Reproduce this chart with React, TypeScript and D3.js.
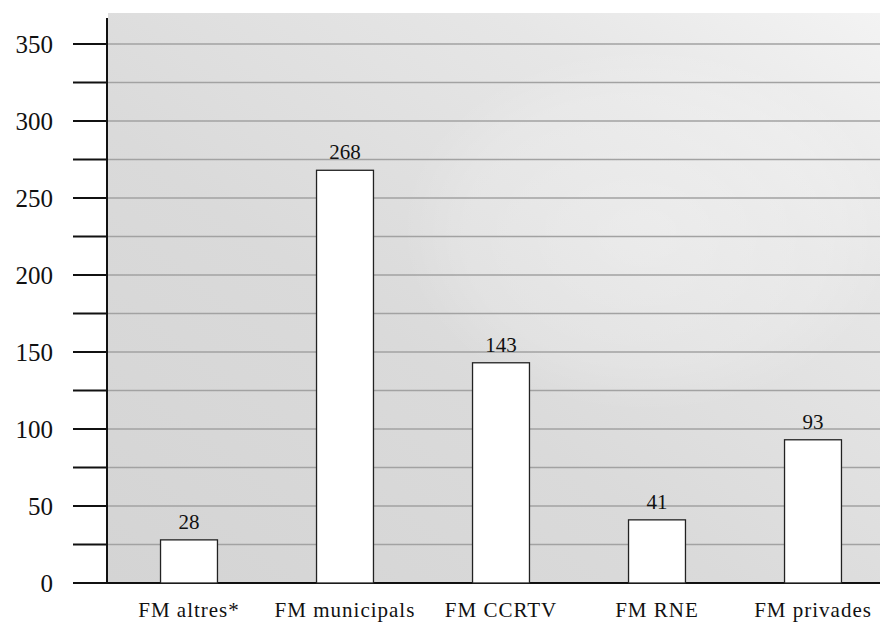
import React from "react";
import * as d3 from "d3";

const categories = ["FM altres*", "FM municipals", "FM CCRTV", "FM RNE", "FM privades"];
const values = [28, 268, 143, 41, 93];
const tickValues = [0, 50, 100, 150, 200, 250, 300, 350];
const minorTicks = [25, 75, 125, 175, 225, 275, 325];

const W = 880;
const H = 627;

export default function App() {
  const y = d3.scaleLinear().domain([0, 350]).range([583, 44]);
  const x = d3
    .scaleBand<string>()
    .domain(categories)
    .range([111, 891])
    .paddingInner(0.635)
    .paddingOuter(0.3175);

  const panelLeft = 108;
  const panelTop = 13;
  const gridValues = d3.range(25, 351, 25);
  const serif = { fontFamily: "Liberation Serif" };

  return (
    <svg
      width={W}
      height={H}
      style={{ position: "absolute", left: 0, top: 0, background: "#fff" }}
    >
      <defs>
        <linearGradient id="panelShade" x1="0" y1="1" x2="1" y2="0">
          <stop offset="0" stopColor="#d4d4d4" />
          <stop offset="0.4" stopColor="#dadada" />
          <stop offset="0.75" stopColor="#e6e6e6" />
          <stop offset="1" stopColor="#f3f3f3" />
        </linearGradient>
        <radialGradient id="panelGlow" cx="0.7" cy="0.38" r="0.32">
          <stop offset="0" stopColor="#ffffff" stopOpacity="0.3" />
          <stop offset="0.75" stopColor="#ffffff" stopOpacity="0.15" />
          <stop offset="1" stopColor="#ffffff" stopOpacity="0" />
        </radialGradient>
      </defs>

      {/* plot panel */}
      <rect x={panelLeft} y={panelTop} width={W - panelLeft} height={y(0) - panelTop} fill="url(#panelShade)" />
      <rect x={panelLeft} y={panelTop} width={W - panelLeft} height={y(0) - panelTop} fill="url(#panelGlow)" />

      {/* horizontal gridlines */}
      {gridValues.map((v) => (
        <line
          key={v}
          x1={panelLeft}
          x2={W}
          y1={y(v)}
          y2={y(v)}
          stroke="#a2a2a2"
          strokeWidth={1.5}
        />
      ))}

      {/* y axis */}
      <line x1={107} x2={107} y1={18} y2={y(0)} stroke="#111" strokeWidth={2} />
      {[...tickValues, ...minorTicks].map((v) => (
        <line key={"t" + v} x1={73} x2={107} y1={y(v)} y2={y(v)} stroke="#111" strokeWidth={2} />
      ))}
      {tickValues.map((v) => (
        <text
          key={"l" + v}
          x={53}
          y={y(v)}
          dy="0.35em"
          textAnchor="end"
          style={serif}
          fontSize={25}
          fill="#111"
        >
          {v}
        </text>
      ))}

      {/* baseline */}
      <line x1={97} x2={W} y1={y(0)} y2={y(0)} stroke="#111" strokeWidth={2} />

      {/* bars */}
      {categories.map((c, i) => (
        <g key={c}>
          <rect
            x={x(c)}
            y={y(values[i])}
            width={x.bandwidth()}
            height={y(0) - y(values[i])}
            fill="#ffffff"
            stroke="#222"
            strokeWidth={1.3}
          />
          <text
            x={(x(c) as number) + x.bandwidth() / 2}
            y={y(values[i]) - 11}
            textAnchor="middle"
            style={serif}
            fontSize={21}
            fill="#111"
          >
            {values[i]}
          </text>
          <text
            x={(x(c) as number) + x.bandwidth() / 2}
            y={617}
            textAnchor="middle"
            style={serif}
            fontSize={21}
            letterSpacing={1}
            fill="#111"
          >
            {c}
          </text>
        </g>
      ))}
    </svg>
  );
}
